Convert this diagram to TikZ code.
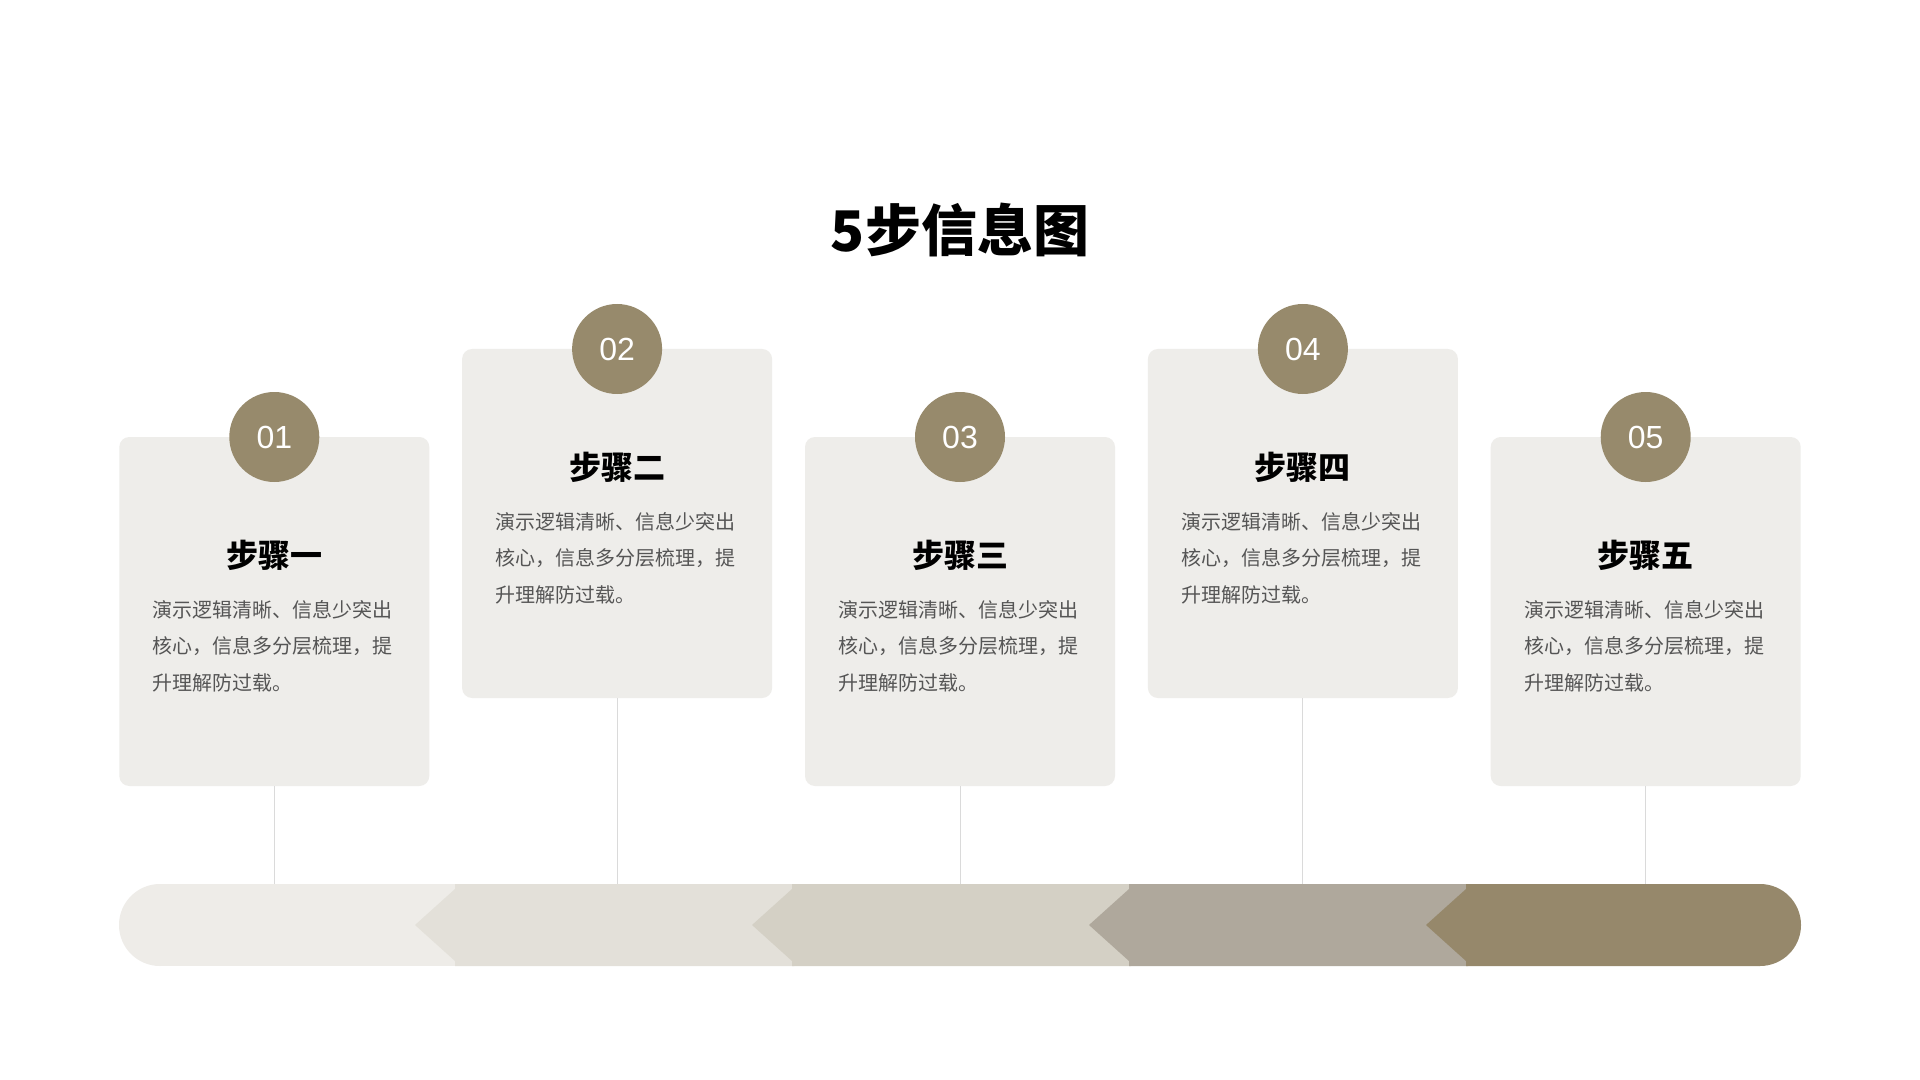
\documentclass[tikz,border=0pt]{standalone}
\usepackage{fontspec}
\setmainfont{Noto Sans CJK SC}
\newfontfamily\numfont{Liberation Sans}
\definecolor{cardc}{HTML}{EEEDEA}
\definecolor{circc}{HTML}{978A6C}
\definecolor{segA}{HTML}{EEECE8}
\definecolor{segB}{HTML}{E3E0D9}
\definecolor{segC}{HTML}{D4D0C5}
\definecolor{segD}{HTML}{AFA89C}
\definecolor{segE}{HTML}{96886B}
\definecolor{bodyc}{HTML}{555555}
\definecolor{linec}{HTML}{DADADA}
\begin{document}
\begin{tikzpicture}[x=0.5pt,y=-0.5pt,
  card/.style={fill=cardc, rounded corners=5pt, minimum width=155pt, minimum height=174.5pt, inner sep=0pt},
  numc/.style={circle, fill=circc, minimum size=45pt, inner sep=0pt, text=white, font=\numfont\fontsize{16pt}{16pt}\selectfont},
  stitle/.style={font=\bfseries\fontsize{16pt}{16pt}\selectfont, text=black, inner sep=0pt},
  body/.style={font=\fontsize{10pt}{18.2pt}\selectfont, text=bodyc, align=left, anchor=north west, inner sep=0pt},
  conn/.style={draw=linec, line width=0.5pt}]
\fill[white] (0,0) rectangle (1920,1080);
\node[font=\bfseries\fontsize{28pt}{28pt}\selectfont, inner sep=0pt] (title) at (960,230) {5步信息图};
% bar
\fill[segA] (160,925) circle[radius=20.5pt];
\fill[segA] (160,884) rectangle (470,966);
\fill[segB] (455,884) -- (794,884) -- (794,966) -- (455,966) -- (455,961) -- (415,925) -- (455,889) -- cycle;
\fill[segC] (792,884) -- (1131,884) -- (1131,966) -- (792,966) -- (792,961) -- (752,925) -- (792,889) -- cycle;
\fill[segD] (1129,884) -- (1468,884) -- (1468,966) -- (1129,966) -- (1129,961) -- (1089,925) -- (1129,889) -- cycle;
\fill[segE] (1760,925) circle[radius=20.5pt];
\fill[segE] (1466,884) -- (1760,884) -- (1760,966) -- (1466,966) -- (1466,961) -- (1426,925) -- (1466,889) -- cycle;
\foreach \i/\x/\t/\n/\s in {1/274.3/437/01/一, 2/617.1/349/02/二, 3/960/437/03/三, 4/1302.9/349/04/四, 5/1645.7/437/05/五}{
  \coordinate (b\i) at (\x,884);
  \node[card] (card\i) at (\x,\t+174.5) {};
  \draw[conn] (card\i.south) -- (b\i);
  \node[numc] (num\i) at (\x,\t) {\n};
  \node[stitle] (st\i) at (\x,\t+118) {步骤\s};
  \node[body] (bd\i) at (\x-122,\t+163) {演示逻辑清晰、信息少突出\\核心，信息多分层梳理，提\\升理解防过载。};
}
\end{tikzpicture}
\end{document}
